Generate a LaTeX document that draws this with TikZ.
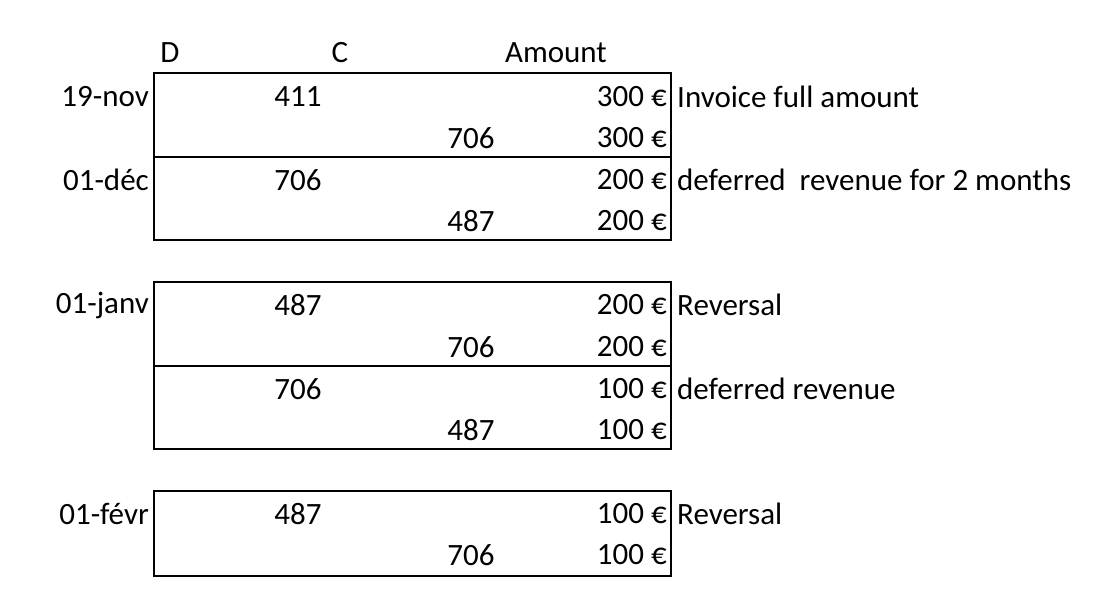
\documentclass[tikz,border=0pt]{standalone}
\usepackage{fontspec}
\setmainfont{Carlito}
\begin{document}
\begin{tikzpicture}[x=1pt,y=-1pt,
  txt/.style={inner sep=0pt,font=\fontsize{31}{36}\selectfont},
  box/.style={draw=black,line width=1.5pt}]
\useasboundingbox (0,0) rectangle (1100,603);
\draw[box] (154,73) rectangle (671,240);
\draw[box] (154,157) -- (671,157);
\draw[box] (154,282) rectangle (671,449);
\draw[box] (154,366) -- (671,366);
\draw[box] (154,491) rectangle (671,576);
\node[txt] (hd) at (170,53) {D};
\node[txt] (hc) at (340,53) {C};
\node[txt] (ha) at (556,53) {Amount};
\foreach \y/\d/\a/\b/\m/\c [count=\i] in {
 97/19-nov/411//300/Invoice full amount,
 138///706/300/,
 180/01-déc/706//200/deferred\ \ revenue for 2 months,
 221///487/200/,
 305/01-janv/487//200/Reversal,
 347///706/200/,
 389//706//100/deferred revenue,
 430///487/100/,
 514/01-févr/487//100/Reversal,
 555///706/100/}{
 \node[txt,anchor=east] (d\i) at (149,\y) {\d};
 \node[txt] (a\i) at (298,\y) {\a};
 \node[txt] (b\i) at (471,\y) {\b};
 \node[txt,anchor=east] (m\i) at (667,\y) {\m{} €};
 \node[txt,anchor=west] (c\i) at (677,\y) {\c};
}
\end{tikzpicture}
\end{document}
